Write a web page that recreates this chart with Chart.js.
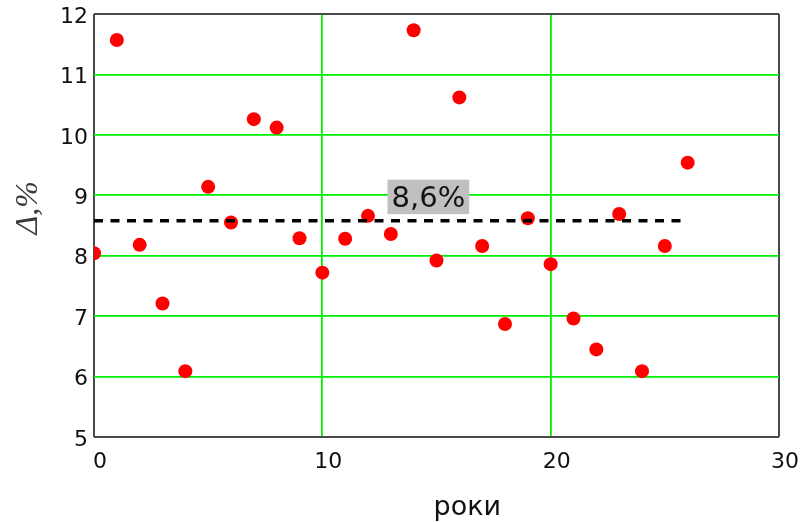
<!DOCTYPE html>
<html>
<head>
<meta charset="utf-8">
<script src="https://cdn.jsdelivr.net/npm/chart.js@4/dist/chart.umd.min.js"></script>
<style>
  html, body { margin: 0; padding: 0; background: #ffffff; }
  #wrap { width: 803px; height: 522px; }
</style>
</head>
<body>
<div id="wrap"><canvas id="c" width="803" height="522"></canvas></div>
<script>
// ---- data ----
const years = [0, 1, 2, 3, 4, 5, 6, 7, 8, 9, 10, 11, 12, 13, 14, 15, 16, 17, 18, 19, 20, 21, 22, 23, 24, 25, 26];
const deltaPct = [8.04, 11.57, 8.18, 7.21, 6.09, 9.14, 8.55, 10.26, 10.12, 8.29, 7.72, 8.28, 8.66, 8.36, 11.73, 7.92, 10.62, 8.16, 6.87, 8.62, 7.86, 6.96, 6.45, 8.69, 6.09, 8.16, 9.54];
const meanValue = 8.58;
const meanRange = [0, 26];
const meanLabel = "8,6%";
const meanLabelX = 14.6;
const xTicks = [0, 10, 20, 30];
const yTicks = [5, 6, 7, 8, 9, 10, 11, 12];
const xTitle = "роки";
const yTitle = "\u0394,%";

// ---- styles ----
const GRID_GREEN = '#00ee00';
const FRAME = '#4a4a4a';

const scatterPoints = years.map((x, i) => ({ x: x, y: deltaPct[i] }));
const meanPoints = meanRange.map(x => ({ x: x, y: meanValue }));

const annotations = {
  id: 'annotations',
  afterDatasetsDraw(chart) {
    const ctx = chart.ctx;
    const xs = chart.scales.x, ys = chart.scales.y;
    ctx.save();
    ctx.font = '29px "DejaVu Sans"';
    const w = ctx.measureText(meanLabel).width;
    const cx = xs.getPixelForValue(meanLabelX);
    const bottom = ys.getPixelForValue(meanValue) - 6.5;
    const h = 34.5;
    ctx.fillStyle = '#c0c0c0';
    ctx.fillRect(cx - w / 2 - 3, bottom - h, w + 8, h);
    ctx.fillStyle = '#141414';
    ctx.textAlign = 'center';
    ctx.textBaseline = 'alphabetic';
    ctx.fillText(meanLabel, cx + 1, bottom - 7.6);
    ctx.restore();
  },
  afterDraw(chart) {
    const ctx = chart.ctx;
    const a = chart.chartArea;
    ctx.save();
    ctx.font = '27px "DejaVu Sans"';
    ctx.fillStyle = '#111';
    ctx.textAlign = 'center';
    ctx.textBaseline = 'alphabetic';
    ctx.fillText(xTitle, a.left + (a.right - a.left) * 0.545, 515);
    ctx.font = 'italic 32px "Liberation Serif"';
    ctx.fillStyle = '#3a3a3a';
    ctx.translate(37, a.top + (a.bottom - a.top) * 0.458);
    ctx.rotate(-Math.PI / 2);
    ctx.textAlign = 'center';
    ctx.fillText(yTitle, 0, 0);
    ctx.restore();
  }
};

const isEdgeY = v => v === yTicks[0] || v === yTicks[yTicks.length - 1];
const isEdgeX = v => v === xTicks[0] || v === xTicks[xTicks.length - 1];

new Chart(document.getElementById('c'), {
  type: 'scatter',
  data: {
    datasets: [
      {
        label: 'mean',
        data: meanPoints,
        showLine: true,
        borderColor: '#000000',
        borderWidth: 3.5,
        borderDash: [9, 7.5],
        borderCapStyle: 'butt',
        pointRadius: 0,
        fill: false,
        order: 0
      },
      {
        label: 'delta',
        data: scatterPoints,
        backgroundColor: '#ff0000',
        borderWidth: 0,
        pointRadius: 7,
        order: 1
      }
    ]
  },
  options: {
    responsive: false,
    animation: false,
    layout: { padding: { left: 0, top: 14, right: 24, bottom: 0 } },
    plugins: { legend: { display: false }, tooltip: { enabled: false } },
    scales: {
      x: {
        type: 'linear',
        min: xTicks[0],
        max: xTicks[xTicks.length - 1],
        afterBuildTicks: s => { s.ticks = xTicks.map(v => ({ value: v })); },
        afterFit: s => { s.height = 85; s.paddingLeft = 0; s.paddingRight = 0; },
        border: { display: false },
        grid: {
          drawTicks: false,
          color: c => isEdgeX(c.tick.value) ? FRAME : GRID_GREEN,
          lineWidth: c => isEdgeX(c.tick.value) ? 2 : 1.8
        },
        ticks: {
          padding: 12,
          labelOffset: 6,
          color: '#111',
          font: { family: '"DejaVu Sans"', size: 22 },
          maxRotation: 0
        },
        title: { display: false }
      },
      y: {
        type: 'linear',
        min: yTicks[0],
        max: yTicks[yTicks.length - 1],
        afterBuildTicks: s => { s.ticks = yTicks.map(v => ({ value: v })); },
        afterFit: s => { s.width = 94; s.paddingTop = 0; s.paddingBottom = 0; },
        border: { display: false },
        grid: {
          drawTicks: false,
          color: c => isEdgeY(c.tick.value) ? FRAME : GRID_GREEN,
          lineWidth: c => isEdgeY(c.tick.value) ? 2 : 1.8
        },
        ticks: {
          padding: 6,
          labelOffset: 3,
          color: '#111',
          font: { family: '"DejaVu Sans"', size: 22 }
        },
        title: { display: false }
      }
    }
  },
  plugins: [annotations]
});
</script>
</body>
</html>
